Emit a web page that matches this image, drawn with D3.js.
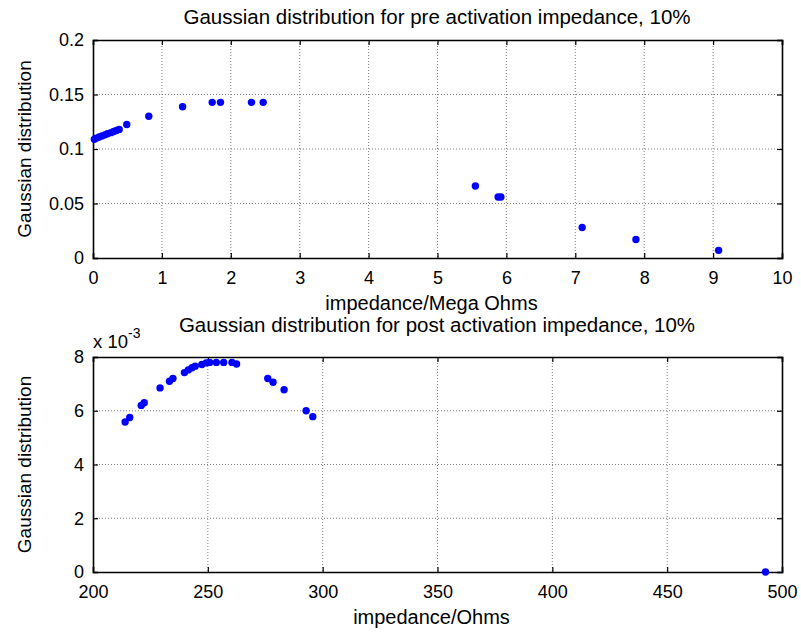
<!DOCTYPE html>
<html>
<head>
<meta charset="utf-8">
<script src="https://cdnjs.cloudflare.com/ajax/libs/d3/7.8.5/d3.min.js"></script>
<style>
  body { margin: 0; background: #fff; }
  svg { font-family: "Liberation Sans", Arial, sans-serif; }
  .grid line { stroke: #808080; stroke-dasharray: 1,2; }
</style>
</head>
<body>
<svg id="chart" width="801" height="633"></svg>
<script>
// pre activation impedance (Mega Ohms) vs gaussian value
const preX = [0.02, 0.05, 0.09, 0.13, 0.17, 0.21, 0.26, 0.3, 0.34, 0.38, 0.49, 0.81, 1.30, 1.73, 1.85, 2.30, 2.47, 5.55, 5.88, 5.92, 7.10, 7.88, 9.08];
const preY = [0.109, 0.110, 0.111, 0.112, 0.113, 0.114, 0.115, 0.116, 0.117, 0.118, 0.1225, 0.130, 0.1388, 0.1428, 0.1428, 0.1428, 0.1428, 0.066, 0.056, 0.056, 0.028, 0.017, 0.007];

// post activation impedance (Ohms) vs gaussian value (x 10^-3)
const postX = [214, 216, 221, 222.3, 229.2, 233.3, 234.8, 239.8, 241.5, 243.1, 244.5, 247.4, 249.3, 250.8, 253.7, 256.9, 260.5, 262.5, 276.1, 278.4, 283.2, 292.8, 295.7, 492.8];
const postY = [5.58, 5.75, 6.2, 6.3, 6.85, 7.1, 7.2, 7.42, 7.52, 7.6, 7.66, 7.72, 7.78, 7.8, 7.8, 7.8, 7.8, 7.74, 7.2, 7.06, 6.78, 6.0, 5.78, 0.0];

const preXTicks = d3.range(0, 11, 1);
const preYTicks = [0, 0.05, 0.1, 0.15, 0.2];
const postXTicks = d3.range(200, 501, 50);
const postYTicks = [0, 2, 4, 6, 8];

const svg = d3.select("#chart");
const left = 93, right = 782;

function panel(o) {
    const g = svg.append("g");
    const x = d3.scaleLinear().domain(o.xDomain).range([left, right]);
    const y = d3.scaleLinear().domain(o.yDomain).range([o.bottom, o.top]);

    // dotted grid
    g.append("g").attr("class", "grid")
        .selectAll("line.v").data(o.xTicks.slice(1, -1)).enter().append("line")
        .attr("x1", d => x(d)).attr("x2", d => x(d))
        .attr("y1", o.top).attr("y2", o.bottom);
    g.append("g").attr("class", "grid")
        .selectAll("line.h").data(o.yTicks.slice(1, -1)).enter().append("line")
        .attr("y1", d => y(d)).attr("y2", d => y(d))
        .attr("x1", left).attr("x2", right);

    // axes, ticks pointing inwards on all four sides
    g.append("g").attr("transform", "translate(0," + o.bottom + ")")
        .call(d3.axisBottom(x).tickValues(o.xTicks).tickSize(-5).tickPadding(13));
    const ay = g.append("g").attr("transform", "translate(" + left + ",0)")
        .call(d3.axisLeft(y).tickValues(o.yTicks).tickSize(-5).tickPadding(9).tickFormat(o.yFmt));
    g.append("g").attr("transform", "translate(0," + o.top + ")")
        .call(d3.axisTop(x).tickValues(o.xTicks).tickSize(-5).tickFormat(""));
    g.append("g").attr("transform", "translate(" + right + ",0)")
        .call(d3.axisRight(y).tickValues(o.yTicks).tickSize(-5).tickFormat(""));
    g.selectAll(".domain").attr("stroke", "#000").attr("stroke-width", 1.6);
    g.selectAll(".tick line").attr("stroke", "#000").attr("stroke-width", 1.2);
    g.selectAll(".tick text").attr("font-size", 18).attr("fill", "#000")
        .attr("font-family", "Liberation Sans, Arial, sans-serif");
    ay.selectAll(".tick text").attr("dy", "0.33em");

    // points
    g.selectAll("circle").data(o.xs).enter().append("circle")
        .attr("cx", (d, i) => x(d))
        .attr("cy", (d, i) => y(o.ys[i]))
        .attr("r", 3.7)
        .attr("fill", "#0000ff");

    // labels
    g.append("text").attr("x", (left + right) / 2 - 0.5).attr("y", o.titleY)
        .attr("text-anchor", "middle").attr("font-size", 20.5).text(o.title);
    g.append("text").attr("x", (left + right) / 2 - 6).attr("y", o.bottom + 52)
        .attr("text-anchor", "middle").attr("font-size", 20).text(o.xLabel);
    g.append("text")
        .attr("transform", "translate(31," + (o.top + o.bottom) / 2 + ") rotate(-90)")
        .attr("text-anchor", "middle").attr("font-size", 19).text("Gaussian distribution");
    return g;
}

panel({
    xDomain: [0, 10], yDomain: [0, 0.2], top: 40, bottom: 258, titleY: 24,
    xTicks: preXTicks, yTicks: preYTicks,
    yFmt: d => d === 0 ? "0" : String(d),
    xs: preX, ys: preY,
    title: "Gaussian distribution for pre activation impedance, 10%",
    xLabel: "impedance/Mega Ohms"
});

const g2 = panel({
    xDomain: [200, 500], yDomain: [0, 8], top: 357, bottom: 572, titleY: 332,
    xTicks: postXTicks, yTicks: postYTicks,
    yFmt: d => String(d),
    xs: postX, ys: postY,
    title: "Gaussian distribution for post activation impedance, 10%",
    xLabel: "impedance/Ohms"
});

// exponent label
const ex = g2.append("text").attr("x", 93).attr("y", 348).attr("font-size", 18.5);
ex.append("tspan").text("x 10");
ex.append("tspan").attr("dy", -10).attr("font-size", 14).text("-3");
</script>
</body>
</html>
